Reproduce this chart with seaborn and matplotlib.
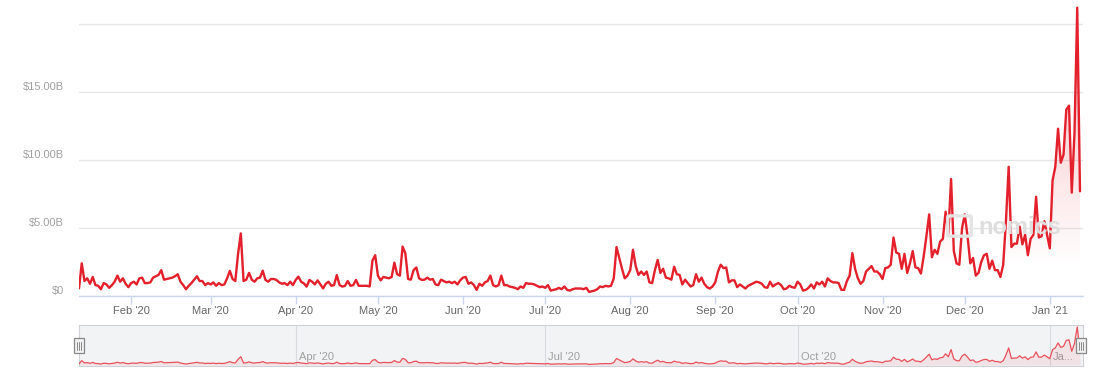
import numpy as np
import pandas as pd
import matplotlib
matplotlib.use("Agg")
import matplotlib.pyplot as plt
import matplotlib.dates as mdates
from matplotlib.transforms import ScaledTranslation, blended_transform_factory
from matplotlib.patches import Rectangle, FancyBboxPatch
from matplotlib.colors import to_rgb
import seaborn as sns

# ---------------- data (daily volume, billions USD) ----------------
start_date = "2020-01-13"
vol_jan20 = [0.56, 2.4, 1.1, 1.3, 0.9, 1.4, 0.8, 0.75, 0.5, 0.95, 0.85, 0.6, 0.8, 1.05, 1.5, 1.05, 1.3, 0.9, 0.65]
vol_feb20 = [0.95, 1.05, 0.85, 1.3, 1.35, 0.95, 0.95, 1.0, 1.35, 1.45, 1.55, 1.9, 1.2, 1.25, 1.3, 1.35, 1.45, 1.6,
             1.05, 0.8, 0.5, 0.75, 0.95, 1.2, 1.45, 1.1, 1.1, 0.8, 0.95]
vol_mar20 = [0.85, 1.0, 0.75, 0.95, 0.8, 0.85, 1.3, 1.85, 1.25, 1.1, 3.1, 4.6, 1.1, 1.2, 1.7, 1.2, 1.05, 1.3, 1.35,
             1.86, 1.18, 1.05, 1.25, 1.25, 1.18, 1.0, 0.9, 0.95, 0.8, 1.05, 0.8]
vol_apr20 = [1.18, 1.42, 1.05, 0.93, 0.69, 1.18, 1.05, 0.85, 1.15, 0.85, 0.56, 0.9, 1.05, 0.75, 0.8, 1.54, 0.81, 0.69,
             0.75, 1.1, 0.75, 0.8, 1.18, 0.75, 0.75, 0.75, 0.75, 0.7, 2.6, 3.0]
vol_may20 = [1.5, 1.15, 1.4, 1.35, 1.3, 1.4, 2.45, 1.6, 1.5, 3.63, 3.14, 1.25, 1.2, 1.9, 2.1, 1.3, 1.18, 1.2, 1.35,
             1.2, 1.25, 0.85, 0.8, 1.2, 1.1, 1.0, 1.05, 0.95, 1.05, 0.85, 1.15]
vol_jun20 = [1.35, 1.4, 0.9, 1.0, 0.8, 0.45, 0.9, 0.75, 1.0, 1.1, 1.5, 0.8, 0.7, 0.8, 1.5, 0.8, 0.8, 0.7, 0.65, 0.6,
             0.5, 0.7, 0.6, 0.95, 0.9, 0.9, 0.85, 0.75, 0.65, 0.7]
vol_jul20 = [0.6, 0.8, 0.4, 0.45, 0.5, 0.6, 0.5, 0.7, 0.45, 0.4, 0.5, 0.55, 0.55, 0.55, 0.5, 0.6, 0.3, 0.35, 0.4, 0.5,
             0.7, 0.65, 0.75, 0.7, 0.75, 1.3, 3.6, 2.8, 2.0, 1.3, 1.5]
vol_aug20 = [1.9, 3.4, 2.2, 1.55, 1.8, 1.55, 1.8, 1.0, 0.95, 1.9, 2.65, 1.7, 2.0, 1.35, 1.3, 1.2, 2.15, 1.6, 1.55,
             0.85, 1.2, 0.95, 0.7, 0.8, 1.6, 1.05, 1.35, 0.9, 0.65, 0.55, 0.7]
vol_sep20 = [1.0, 1.8, 2.3, 2.05, 2.1, 1.0, 1.15, 1.15, 0.65, 0.85, 0.7, 0.55, 0.75, 0.85, 0.95, 1.05, 1.0, 0.9, 0.65,
             0.6, 1.05, 0.7, 0.85, 0.95, 0.8, 0.5, 0.55, 0.75, 0.65, 0.6]
vol_oct20 = [1.05, 0.85, 0.4, 0.45, 0.6, 0.85, 0.55, 1.0, 0.85, 1.05, 0.7, 1.3, 1.1, 1.0, 1.0, 0.95, 0.45, 0.45, 1.1,
             1.5, 3.15, 2.0, 1.3, 0.9, 1.1, 1.8, 2.0, 2.2, 1.8, 1.8, 1.6]
vol_nov20 = [1.25, 2.05, 2.1, 2.3, 4.3, 3.2, 3.1, 2.0, 3.1, 1.7, 2.4, 3.3, 2.1, 2.05, 1.65, 2.9, 4.4, 6.0, 2.85, 3.4,
             3.1, 4.0, 4.2, 6.2, 4.6, 8.6, 3.3, 2.4, 2.3, 5.0]
vol_dec20 = [6.0, 4.4, 2.4, 2.8, 1.5, 1.7, 2.5, 3.0, 3.1, 2.0, 2.6, 1.9, 1.9, 1.4, 2.3, 5.5, 9.5, 3.6, 3.85, 3.85,
             5.1, 3.8, 4.5, 3.0, 4.2, 4.5, 7.3, 4.3, 4.4, 5.5, 4.5]
vol_jan21 = [3.5, 8.5, 9.5, 12.3, 9.8, 10.4, 13.7, 14.0, 7.6, 12.0, 21.2, 7.7]

month_ticks = ["2020-02-01", "2020-03-01", "2020-04-01", "2020-05-01", "2020-06-01", "2020-07-01",
               "2020-08-01", "2020-09-01", "2020-10-01", "2020-11-01", "2020-12-01", "2021-01-01"]
month_labels = ["Feb '20", "Mar '20", "Apr '20", "May '20", "Jun '20", "Jul '20",
                "Aug '20", "Sep '20", "Oct '20", "Nov '20", "Dec '20", "Jan '21"]
nav_ticks = ["2020-04-01", "2020-07-01", "2020-10-01", "2021-01-01"]
nav_labels = ["Apr '20", "Jul '20", "Oct '20", "Ja..."]
y_ticks = [0, 5, 10, 15, 20]
y_labels = ["$0", "$5.00B", "$10.00B", "$15.00B", ""]

volume = np.array(vol_jan20 + vol_feb20 + vol_mar20 + vol_apr20 + vol_may20 + vol_jun20 + vol_jul20 +
                  vol_aug20 + vol_sep20 + vol_oct20 + vol_nov20 + vol_dec20 + vol_jan21)
dates = pd.date_range(start_date, periods=len(volume), freq="D")
df = pd.DataFrame({"date": dates, "volume": volume})

# ---------------- style ----------------
sns.set_theme(style="white")
plt.rcParams["font.family"] = ["Liberation Sans", "DejaVu Sans"]

RED = "#e3202b"
W, H = 1096, 382
fig = plt.figure(figsize=(W / 100, H / 100), dpi=100)
fig.patch.set_facecolor("white")


def fr(x0, y0, x1, y1):
    return [x0 / W, 1 - y1 / H, (x1 - x0) / W, (y1 - y0) / H]


ax = fig.add_axes(fr(79, 4, 1083, 296))
nav = fig.add_axes(fr(79, 325, 1083, 366))

x0 = mdates.date2num(dates[0])
x1 = x0 + 366.1
ymax = 292 / 13.6

# ---------------- main chart ----------------
for yv in y_ticks:
    ax.axhline(yv, color="#e6e6e6", lw=1, zorder=0)

poly = ax.fill_between(df["date"], df["volume"], 0, facecolor="none", edgecolor="none")
grad_vals = np.linspace(0, ymax, 300)
alpha = np.clip(0.32 * (grad_vals - 2.0) / 19.0, 0, 0.36)
rgba = np.zeros((300, 1, 4))
rgba[..., :3] = to_rgb(RED)
rgba[..., 3] = alpha[:, None]
im = ax.imshow(rgba, extent=[x0, x1, 0, ymax], origin="lower", aspect="auto", zorder=1,
               interpolation="bilinear")
im.set_clip_path(poly.get_paths()[0], transform=ax.transData)

# watermark
fig.patches.append(FancyBboxPatch((951 / W, 1 - 235 / H), 17 / W, 18 / H, boxstyle="round,pad=0.003",
                                  transform=fig.transFigure, facecolor="none", edgecolor="#e4e4e4", lw=2.4,
                                  zorder=0.5))
fig.text(978 / W, 1 - 227 / H, "nomics", fontsize=17, fontweight="bold", color="#dedede",
         ha="left", va="center", zorder=0.6)

sns.lineplot(data=df, x="date", y="volume", ax=ax, color=RED, lw=1.7, zorder=3)

ax.set_xlim(x0, x1)
ax.set_ylim(0, ymax)
ax.set_xlabel("")
ax.set_ylabel("")
ax.set_yticks(y_ticks)
ax.set_yticklabels(y_labels)
ax.tick_params(axis="y", length=0, pad=10.8, labelsize=8, labelcolor="#a0a0a0")
for lab in ax.get_yticklabels():
    lab.set_transform(lab.get_transform() + ScaledTranslation(0, 0.06, fig.dpi_scale_trans))
ax.set_xticks([mdates.date2num(pd.Timestamp(t)) for t in month_ticks])
ax.set_xticklabels(month_labels)
ax.tick_params(axis="x", length=6, width=1, color="#ccd6eb", pad=1.5, labelsize=8, labelcolor="#666666",
               bottom=True)
for s in ["top", "right", "left"]:
    ax.spines[s].set_visible(False)
ax.spines["bottom"].set_color("#ccd6eb")
ax.spines["bottom"].set_linewidth(1)
ax.grid(False)
ax.set_facecolor("none")

# ---------------- navigator ----------------
nav.set_facecolor("#f2f3f5")
for t in nav_ticks:
    nav.axvline(mdates.date2num(pd.Timestamp(t)), color="#d9dbe0", lw=0.8, zorder=1)
bt = blended_transform_factory(nav.transData, nav.transAxes)
for t, lab in zip(nav_ticks, nav_labels):
    nav.text(mdates.date2num(pd.Timestamp(t)), 0.22, lab, transform=bt + ScaledTranslation(0.03, 0, fig.dpi_scale_trans),
             ha="left", va="center", fontsize=8, color="#a0a0a0", zorder=2)
nav.fill_between(df["date"], df["volume"], 0, color=RED, alpha=0.08, lw=0, zorder=2)
sns.lineplot(data=df, x="date", y="volume", ax=nav, color="#e8505a", lw=0.9, zorder=3)
nav.set_xlim(x0, x1)
nav.set_ylim(-0.6, 22.3)
nav.set_xticks([])
nav.set_yticks([])
nav.set_xlabel("")
nav.set_ylabel("")
for s in nav.spines.values():
    s.set_color("#cfd1d6")
    s.set_linewidth(0.8)

# handles
for cx in (79, 1081):
    fig.patches.append(Rectangle(((cx - 5) / W, 1 - 353 / H), 10 / W, 15 / H, transform=fig.transFigure,
                                 facecolor="#f2f2f2", edgecolor="#888888", lw=0.9, zorder=5))
    for dx in (-1.6, 0, 1.6):
        fig.lines.append(plt.Line2D([(cx + dx) / W, (cx + dx) / W], [1 - 349.5 / H, 1 - 341.5 / H],
                                    transform=fig.transFigure, color="#888888", lw=0.7, zorder=6))

fig.savefig("out.png", dpi=100)
